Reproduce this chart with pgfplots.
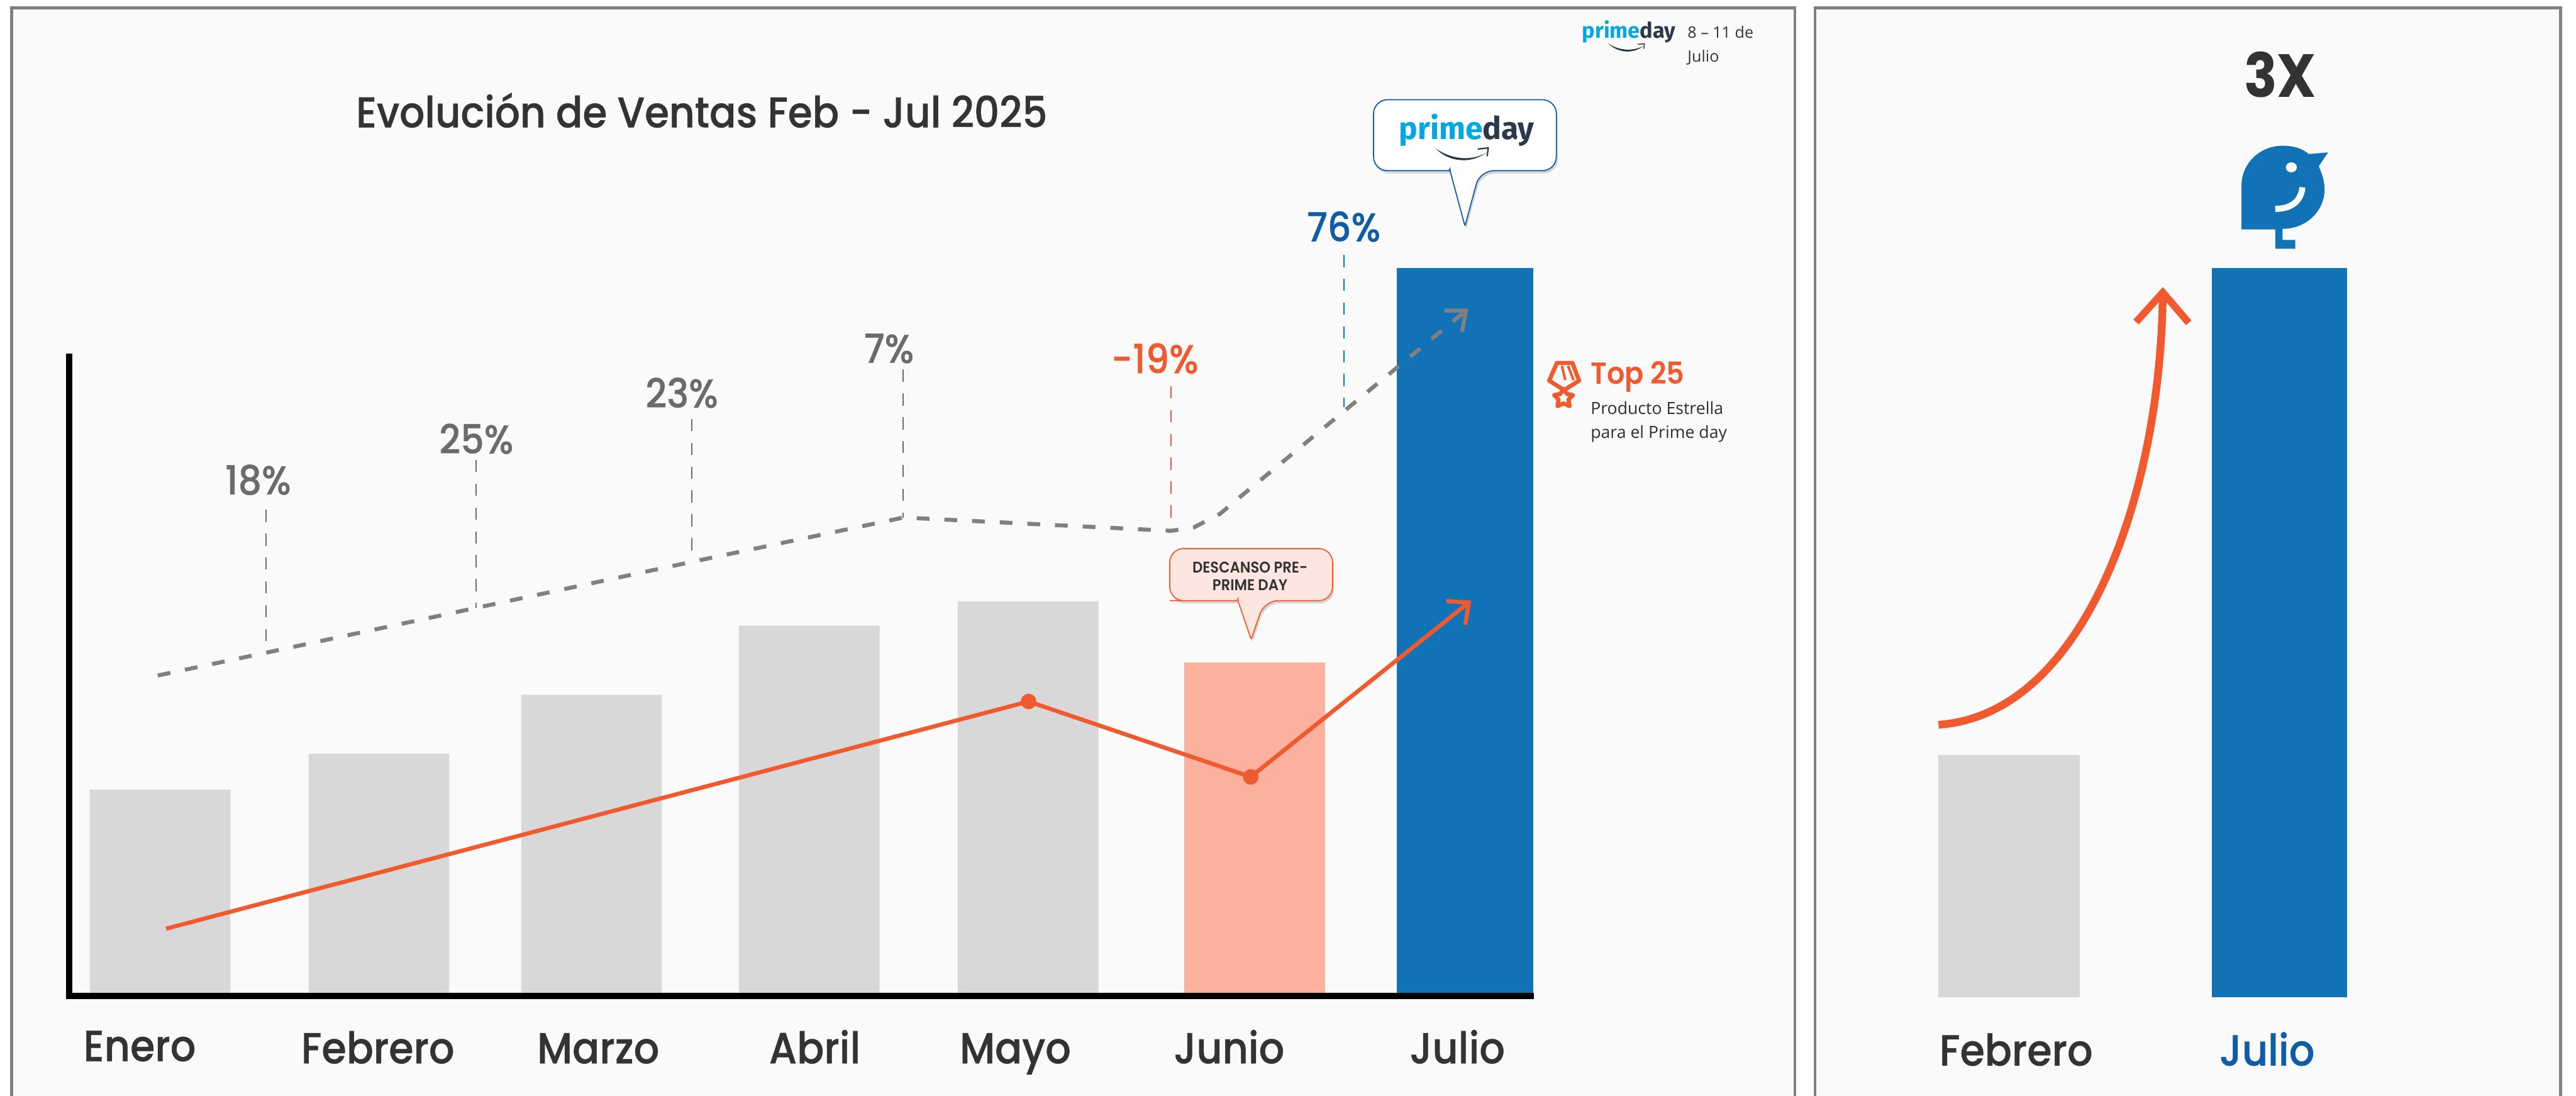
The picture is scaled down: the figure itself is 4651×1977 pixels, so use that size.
\documentclass[border=0pt]{standalone}
\usepackage{fontspec}
\usepackage{pgfplots}
\pgfplotsset{compat=1.18}
\usetikzlibrary{arrows.meta,shadows}
\setmainfont{Poppins}
\newfontfamily\dm[FakeStretch=0.92,FakeBold=0.6]{Poppins Medium}
\newfontfamily\dms[FakeStretch=0.92]{Poppins SemiBold}
\newfontfamily\dmb[FakeStretch=0.9]{Poppins Bold}
\newfontfamily\ib{Open Sans}
\newfontfamily\logo{Fira Sans Bold}
\definecolor{panel}{HTML}{FAFAFA}
\definecolor{frame}{HTML}{808080}
\definecolor{barg}{HTML}{D8D8D8}
\definecolor{barj}{HTML}{FCB19E}
\definecolor{barb}{HTML}{1173B6}
\definecolor{org}{HTML}{F15A2E}
\definecolor{ink}{HTML}{333333}
\definecolor{blu}{HTML}{0F5CA8}
\definecolor{pct}{HTML}{6B6B6B}
\definecolor{pc}{HTML}{00A8E1}
\definecolor{pd}{HTML}{2A3A4A}
\newcommand{\fs}[1]{\fontsize{#1}{#1}\selectfont}
\begin{document}
\begin{tikzpicture}[x=0.2pt,y=-0.2pt]
\path[use as bounding box,fill=white] (0,0) rectangle (4651,1977);
% panels
\draw[frame,line width=1pt,fill=panel] (21,14) rectangle (3241,2010);
\draw[frame,line width=1pt,fill=panel] (3277,14) rectangle (4623,2010);
% left chart
\begin{axis}[
  at={(25pt,-359.4pt)},anchor=origin,
  scale only axis,width=527.6pt,height=230.6pt,
  xmin=125,xmax=2763,ymin=0,ymax=1153,
  clip=false,axis on top,
  axis x line=bottom,axis y line=left,
  axis line style={-,black,line width=2.3pt,line cap=rect},
  ytick=\empty,
  xtick={252,682,1080,1471,1833,2219,2631},
  xticklabels={\raisebox{0.8pt}{Enero},Febrero,Marzo,Abril,Mayo,Junio,Julio},
  major tick length=0pt,
  xticklabel style={font=\dm\fs{15.7},text=ink,anchor=base,yshift=-24.4pt},
]
\addplot[ybar,bar width=50.8pt,bar shift=0pt,fill=barg,draw=none] coordinates {(289,372)(684,437)(1068,543)(1461,668)(1856,712)};
\addplot[ybar,bar width=50.8pt,bar shift=0pt,fill=barj,draw=none] coordinates {(2265,601)};
\addplot[ybar,bar width=49.2pt,bar shift=0pt,fill=barb,draw=none] coordinates {(2645,1313)};
% leaders
\addplot[pct,line width=0.45pt,dash pattern=on 4.4pt off 4.2pt] coordinates {(480,877)(480,619)};
\addplot[pct,line width=0.45pt,dash pattern=on 4.4pt off 4.2pt] coordinates {(860,967)(860,700)};
\addplot[pct,line width=0.45pt,dash pattern=on 4.4pt off 4.2pt] coordinates {(1249,1041)(1249,783)};
\addplot[pct,line width=0.45pt,dash pattern=on 4.4pt off 4.2pt] coordinates {(1631,1130)(1631,863)};
\addplot[org,line width=0.45pt,dash pattern=on 4.4pt off 4.2pt] coordinates {(2114,1100)(2114,839)};
\addplot[barb,line width=0.45pt,dash pattern=on 4.4pt off 4.2pt] coordinates {(2426,1337)(2426,1062)};
% dashed trend
\addplot[frame,line width=1.45pt,dash pattern=on 4.6pt off 5.4pt,-{Straight Barb[length=6pt,width=10pt,line width=1.45pt]}] coordinates {(285,578)(480,619)(860,700)(1249,783)(1631,863)(2114,839)(2155,845)(2203,870)(2235,897)(2651,1240)};
% orange line
\addplot[org,line width=1.5pt,-{Straight Barb[length=6pt,width=11pt,line width=1.5pt]}] coordinates {(300,121)(1857,531)(2258,395)(2656,713)};
\addplot[only marks,mark=*,mark size=2.6pt,mark options={fill=org,draw=org}] coordinates {(1857,531)(2258,395)};
\end{axis}
% right chart
\begin{axis}[
  at={(680pt,-360pt)},anchor=origin,
  scale only axis,width=200pt,height=263.4pt,
  xmin=3400,xmax=4400,ymin=0,ymax=1317,
  clip=false,
  axis x line=bottom,axis y line=left,
  axis line style={draw=none},
  ytick=\empty,
  xtick={3640,4093},
  xticklabels={\textcolor{ink}{Febrero},\textcolor{blu}{Julio}},
  major tick length=0pt,
  xticklabel style={font=\dm\fs{15.7},anchor=base,yshift=-24.6pt},
]
\addplot[ybar,bar width=51pt,bar shift=0pt,fill=barg,draw=none] coordinates {(3627.5,437)};
\addplot[ybar,bar width=48.6pt,bar shift=0pt,fill=barb,draw=none] coordinates {(4115.5,1316)};
\end{axis}
% curved arrow
\draw[org,line width=2.8pt,-{Straight Barb[length=10.8pt,width=19pt,line width=2.6pt]}]
  (3500,1308) .. controls (3760,1290) and (3900,900) .. (3905,518);
% title + labels
\node[font=\dm\fs{15.5},text=ink] at (1267,199) {Evolución de Ventas Feb - Jul 2025};
\foreach \x/\y/\c/\t in {466/866/pct/18\%,860/792/pct/25\%,1231/709/pct/23\%,1605/629/pct/7\%,2085/647/org/-19\%,2426/409/blu/76\%}
  \node[font=\dm\fs{14.5},text=\c] at (\x,\y) {\t};
\node[font=\dmb\fs{22},text=ink] at (4117,135) {3X};
% junio callout
\draw[org,line width=0.4pt,fill=org!15!white,rounded corners=5pt,drop shadow={shadow xshift=0.5pt,shadow yshift=-1pt,opacity=0.3}]
  (2235,1084) -- (2137,1084) -- (2112,1084) -- (2112,990) -- (2406,990) -- (2406,1084) -- (2283,1084)
  [rounded corners=0.6pt] -- (2259,1154) -- (2235,1084) -- cycle;
\node[font=\dms\fs{5.6},text=ink,align=center] at (2257,1040) {DESCANSO PRE-\\[0.8pt]PRIME DAY};
% prime callout
\draw[blu,line width=0.4pt,fill=white,rounded corners=5pt,drop shadow={shadow xshift=0.5pt,shadow yshift=-1pt,opacity=0.3}]
  (2618,308) -- (2480,308) -- (2480,180) -- (2810,180) -- (2810,308) -- (2672,308)
  [rounded corners=0.6pt] -- (2645,408) -- (2618,308) -- cycle;
\node[font=\logo\fs{11.3},anchor=base,inner sep=0pt] at (2648,252) {\textcolor{pc}{prime}\textcolor{pd}{day}};
\fill[pd] (2592,268) .. controls (2625,290) and (2660,290) .. (2684,275) .. controls (2660,294) and (2620,296) .. (2592,268) -- cycle;
\draw[pd,line width=0.5pt] (2668,269) -- (2687,267) -- (2685,282);
% small logo
\node[font=\logo\fs{7.8},anchor=base,inner sep=0pt] at (2941,69) {\textcolor{pc}{prime}\textcolor{pd}{day}};
\fill[pd] (2903,78) .. controls (2925,93) and (2950,92) .. (2967,83) .. controls (2950,97) and (2922,97) .. (2903,78) -- cycle;
\draw[pd,line width=0.35pt] (2957,80) -- (2969,79) -- (2968,88);
\node[font=\ib\fs{5.7},text=ink,anchor=base west,inner sep=0pt] at (3046,69) {8 – 11 de};
\node[font=\ib\fs{5.7},text=ink,anchor=base west,inner sep=0pt] at (3046,112) {Julio};
% top 25
\node[font=\dms\fs{11},text=org,anchor=base west,inner sep=0pt] at (2871,693) {Top 25};
\node[font=\ib\fs{6.05},text=ink!90!black,anchor=base west,inner sep=0pt] at (2871,748) {Producto Estrella};
\node[font=\ib\fs{6.05},text=ink!90!black,anchor=base west,inner sep=0pt] at (2871,791) {para el Prime day};
% medal
\draw[org,line width=1.5pt,line join=round] (2811,655) -- (2839,655) -- (2851,687) -- (2824,704) -- (2797,687) -- cycle;
\draw[org,line width=0.9pt] (2820,660) -- (2826,686) (2831,660) -- (2841,686);
\draw[org,line width=1.5pt,fill=panel,line join=round] (2823,702) -- (2829,711) -- (2840,713) -- (2832,721) -- (2834,733) -- (2823,728) -- (2812,733) -- (2814,721) -- (2806,713) -- (2817,711) -- cycle;
% bird
\fill[barb] (4047,414) -- (4047,335) .. controls (4047,295) and (4080,263) .. (4121,263)
  .. controls (4140,263) and (4158,268) .. (4168,278) -- (4203.5,275) -- (4186.5,300)
  .. controls (4193,315) and (4197,328) .. (4197,341.5) .. controls (4197,380) and (4165,413) .. (4121,413)
  -- (4121,433) -- (4144,433) -- (4144,449) -- (4108,449) -- (4108,414) -- cycle;
\fill[panel] (4137,302) ellipse [x radius=10,y radius=9];
\draw[panel,line width=2.2pt] (4157,338) .. controls (4155,360) and (4140,377) .. (4108,377);
\end{tikzpicture}
\end{document}
